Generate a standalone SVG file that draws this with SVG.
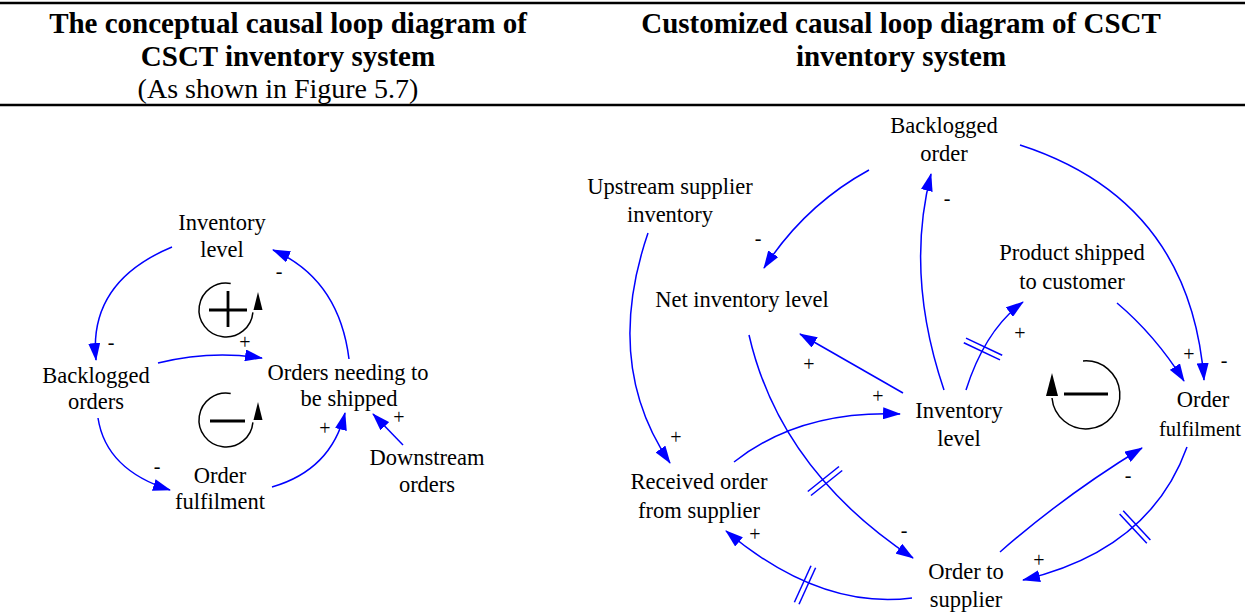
<svg xmlns="http://www.w3.org/2000/svg" width="1245" height="616" viewBox="0 0 1245 616">
<defs>
<style>
text{font-family:"Liberation Serif","Times New Roman",serif;fill:#000}
.hd{font-size:29px;font-weight:bold;text-anchor:middle}
.hr{font-size:28px;text-anchor:middle}
.n{font-size:22.5px;text-anchor:middle}
.s{font-size:20px;text-anchor:middle}
.c{fill:none;stroke:#0000FF;stroke-width:1.5;marker-end:url(#ah)}
.d{stroke:#0000FF;stroke-width:1.5}
.loop{fill:none;stroke:#000;stroke-width:1.5}
.sign{stroke:#000;stroke-width:2.8}
</style>
<marker id="ah" viewBox="0 0 18 12" refX="17" refY="6" markerWidth="18" markerHeight="12" markerUnits="userSpaceOnUse" orient="auto">
<path d="M0,0 L18,6 L0,12 z" fill="#0000FF"/>
</marker>
</defs>
<rect width="1245" height="616" fill="#fff"/>

<g id="header">
<line x1="0" y1="3" x2="1245" y2="3" stroke="#000" stroke-width="2.5"/>
<line x1="0" y1="105" x2="1245" y2="105" stroke="#000" stroke-width="2.5"/>
<text class="hd" x="288" y="33">The conceptual causal loop diagram of</text>
<text class="hd" x="288" y="66">CSCT inventory system</text>
<text class="hr" x="278" y="98">(As shown in Figure 5.7)</text>
<text class="hd" x="901" y="33">Customized causal loop diagram of CSCT</text>
<text class="hd" x="901" y="66">inventory system</text>
</g>

<g id="connectors">
<!-- left diagram -->
<path class="c" d="M172,247 Q88,282 96,360"/>
<path class="c" d="M349,359 Q339,279 273,250"/>
<path class="c" d="M158,363 Q210,350 262,358"/>
<path class="c" d="M98,418 Q106,470 170,490"/>
<path class="c" d="M272,487 Q331,470 345,413"/>
<path class="c" d="M403,445 L373,414"/>
<!-- right diagram -->
<path class="c" d="M869,170 Q805,205 764,268"/>
<path class="c" d="M944,390 Q905,275 931,174"/>
<path class="c" d="M1020,145 Q1190,200 1204,380"/>
<path class="c" d="M1117,303 Q1155,335 1184,381"/>
<path class="c" d="M966,390 Q985,330 1023,302"/>
<path class="c" d="M903,393 L800,334"/>
<path class="c" d="M734,462 Q800,410 900,414"/>
<path class="c" d="M749,335 Q780,470 913,558"/>
<path class="c" d="M648,233 Q603,365 670,463"/>
<path class="c" d="M912,598 Q820,610 726,531"/>
<path class="c" d="M1000,552 Q1065,495 1142,448"/>
<path class="c" d="M1187,447 Q1150,550 1023,580"/>
<!-- delay marks -->
<line class="d" x1="963.8" y1="342.7" x2="1000" y2="359.9"/>
<line class="d" x1="966" y1="338.1" x2="1002.2" y2="355.3"/>
<line class="d" x1="811" y1="495.5" x2="842.2" y2="470.5"/>
<line class="d" x1="807.8" y1="491.5" x2="839" y2="466.5"/>
<line class="d" x1="799" y1="604.2" x2="815.6" y2="567.8"/>
<line class="d" x1="794.4" y1="602.2" x2="811" y2="565.8"/>
<line class="d" x1="1119.6" y1="514.1" x2="1146.8" y2="543.3"/>
<line class="d" x1="1123.2" y1="510.7" x2="1150.4" y2="539.9"/>
<!-- polarity labels -->
<text class="s" x="111" y="349">-</text>
<text class="s" x="279" y="278">-</text>
<text class="s" x="245" y="349">+</text>
<text class="s" x="157" y="473">-</text>
<text class="s" x="325" y="435">+</text>
<text class="s" x="399" y="424">+</text>
<text class="s" x="758" y="245">-</text>
<text class="s" x="947" y="205">-</text>
<text class="s" x="1224" y="367">-</text>
<text class="s" x="1189" y="361">+</text>
<text class="s" x="1020" y="340">+</text>
<text class="s" x="809" y="371">+</text>
<text class="s" x="878" y="403">+</text>
<text class="s" x="904" y="537">-</text>
<text class="s" x="676" y="444">+</text>
<text class="s" x="755" y="541">+</text>
<text class="s" x="1128" y="482">-</text>
<text class="s" x="1039" y="567">+</text>
</g>

<g id="loop-left-reinforcing">
<path class="loop" d="M230.7,283.4 A27,27 0 1 0 252.9,312.4"/>
<polygon points="258,292 253.5,310 262.5,310" fill="#000"/>
<line class="sign" x1="209" y1="310" x2="247" y2="310"/>
<line class="sign" x1="228" y1="291" x2="228" y2="327"/>
</g>
<g id="loop-left-balancing">
<path class="loop" d="M230.7,393.4 A27,27 0 1 0 252.9,422.4"/>
<polygon points="258,402 253.5,420 262.5,420" fill="#000"/>
<line class="sign" x1="210" y1="421" x2="245" y2="421"/>
</g>
<g id="loop-right-balancing">
<path class="loop" d="M1052,398 A34,34 0 1 0 1083,361"/>
<polygon points="1052,373 1046,396 1058,396" fill="#000"/>
<line class="sign" x1="1064" y1="394" x2="1108" y2="394"/>
</g>

<g id="l-inventory-level"><text class="n" x="222" y="230">Inventory</text><text class="n" x="222" y="257">level</text></g>
<g id="l-backlogged-orders"><text class="n" x="96" y="383">Backlogged</text><text class="n" x="96" y="409">orders</text></g>
<g id="l-orders-needing"><text class="n" x="348" y="380">Orders needing to</text><text class="n" x="349" y="406">be shipped</text></g>
<g id="l-order-fulfilment"><text class="n" x="220" y="483">Order</text><text class="n" x="220" y="509">fulfilment</text></g>
<g id="l-downstream-orders"><text class="n" x="427" y="465">Downstream</text><text class="n" x="427" y="492">orders</text></g>

<g id="r-backlogged-order"><text class="n" x="944" y="133">Backlogged</text><text class="n" x="944" y="161">order</text></g>
<g id="r-upstream"><text class="n" x="670" y="194">Upstream supplier</text><text class="n" x="670" y="222">inventory</text></g>
<g id="r-net-inventory"><text class="n" x="742" y="307">Net inventory level</text></g>
<g id="r-product-shipped"><text class="n" x="1072" y="260">Product shipped</text><text class="n" x="1072" y="289">to customer</text></g>
<g id="r-inventory-level"><text class="n" x="959" y="418">Inventory</text><text class="n" x="959" y="446">level</text></g>
<g id="r-order-fulfilment"><text class="n" x="1203" y="407">Order</text><text class="n" x="1200" y="436" style="font-size:20.5px">fulfilment</text></g>
<g id="r-received-order"><text class="n" x="699" y="489">Received order</text><text class="n" x="699" y="518">from supplier</text></g>
<g id="r-order-to-supplier"><text class="n" x="966" y="579">Order to</text><text class="n" x="966" y="607">supplier</text></g>
</svg>
